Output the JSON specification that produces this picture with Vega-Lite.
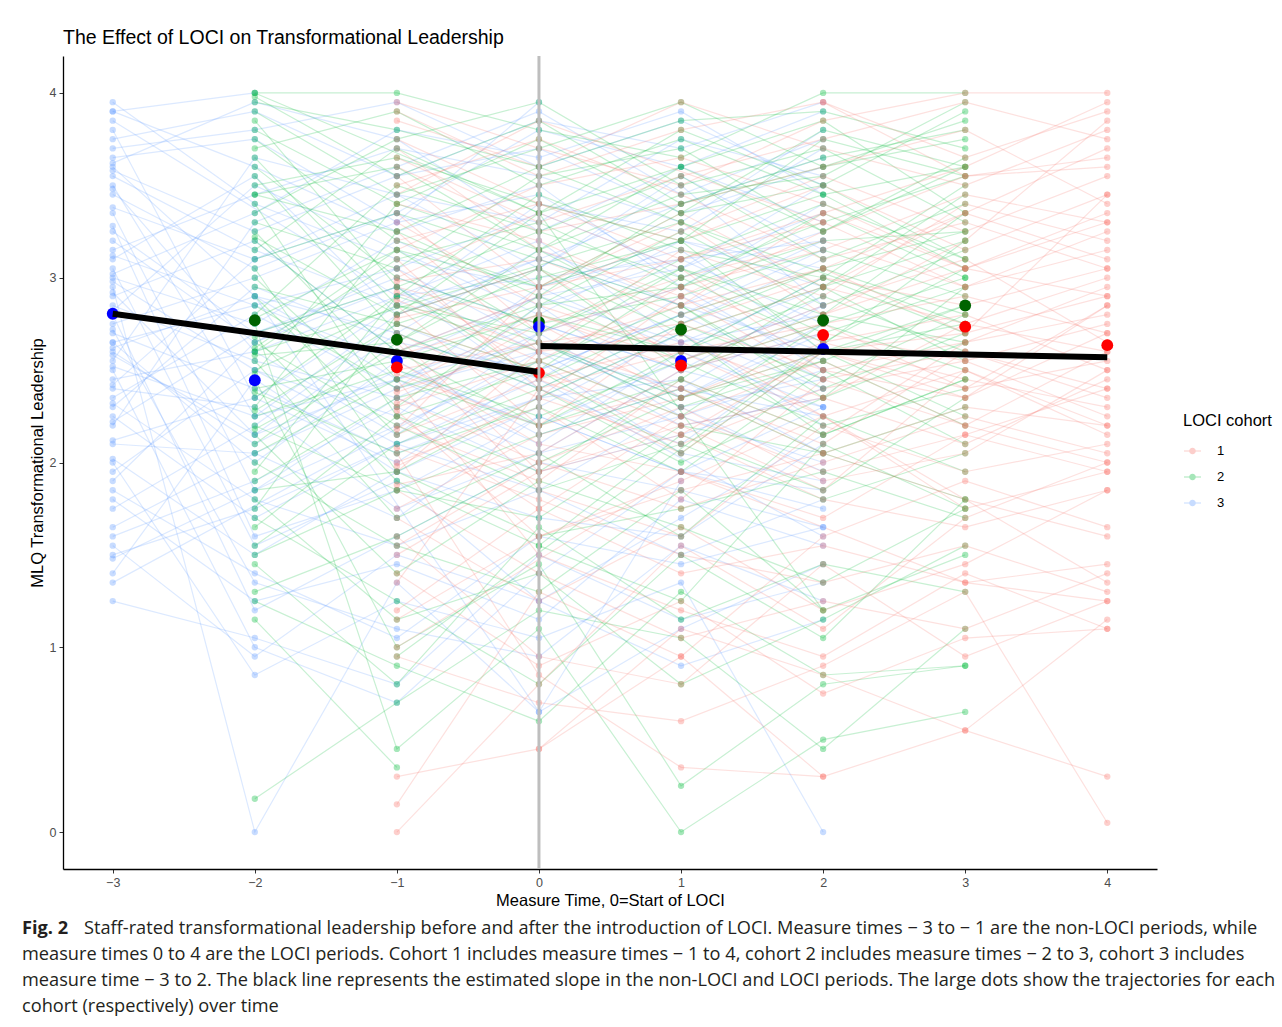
{
  "$schema": "https://vega.github.io/schema/vega-lite/v6.json",
  "padding": {"left": 22, "top": 28, "right": 5, "bottom": 5},
  "bounds": "flush",
  "spacing": 65,
  "config": {
    "view": {"stroke": null},
    "axis": {"grid": false, "domainColor": "black", "domainWidth": 1.3, "tickColor": "#333333", "tickSize": 4, "labelColor": "#4D4D4D", "labelFont": "Liberation Sans", "labelFontSize": 12.5, "labelPadding": 3, "titleFont": "Liberation Sans", "titleFontSize": 16.5, "titleFontWeight": "normal", "titleColor": "black", "titlePadding": 4}
  },
  "datasets": {
    "traj": [
      {"c":"3","id":"b1","t":[-3,-2,-1,0,1,2],"y":[3.95,3.40,3.10,2.95,3.20,3.05]},
      {"c":"3","id":"b2","t":[-3,-2,-1,0,1,2],"y":[3.75,3.90,3.55,3.70,3.35,3.60]},
      {"c":"3","id":"b3","t":[-3,-2,-1,0,1,2],"y":[3.60,2.90,2.70,3.15,2.85,2.60]},
      {"c":"3","id":"b4","t":[-3,-2,-1,0,1,2],"y":[3.50,2.25,2.45,2.10,2.60,2.30]},
      {"c":"3","id":"b5","t":[-3,-2,-1,0,1,2],"y":[3.45,3.05,3.35,3.80,3.60,3.90]},
      {"c":"3","id":"b6","t":[-3,-2,-1,0,1,2],"y":[3.35,1.85,2.20,2.55,2.05,1.90]},
      {"c":"3","id":"b7","t":[-3,-2,-1,0,1,2],"y":[3.20,2.65,2.95,2.40,2.75,3.10]},
      {"c":"3","id":"b8","t":[-3,-2,-1,0,1,2],"y":[3.10,3.55,2.80,3.05,3.50,2.85]},
      {"c":"3","id":"b9","t":[-3,-2,-1,0,1,2],"y":[3.05,1.55,1.90,1.25,1.70,2.15]},
      {"c":"3","id":"b10","t":[-3,-2,-1,0,1,2],"y":[3.00,2.75,3.20,2.85,2.35,2.70]},
      {"c":"3","id":"b11","t":[-3,-2,-1,0,1,2],"y":[2.95,0.00,1.35,0.65,1.10,1.45]},
      {"c":"3","id":"b12","t":[-3,-2,-1,0,1,2],"y":[2.90,3.20,2.60,2.90,3.05,3.35]},
      {"c":"3","id":"b13","t":[-3,-2,-1,0,1,2],"y":[2.85,2.55,2.35,2.70,2.95,2.50]},
      {"c":"3","id":"b14","t":[-3,-2,-1,0,1,2],"y":[2.80,1.20,1.60,2.00,1.85,1.65]},
      {"c":"3","id":"b15","t":[-3,-2,-1,0,1,2],"y":[2.75,3.00,3.30,3.45,3.00,3.25]},
      {"c":"3","id":"b16","t":[-3,-2,-1,0,1,2],"y":[2.70,2.40,2.05,2.35,2.45,2.05]},
      {"c":"3","id":"b17","t":[-3,-2,-1,0,1,2],"y":[2.65,2.85,3.05,2.65,2.30,2.45]},
      {"c":"3","id":"b18","t":[-3,-2,-1,0,1,2],"y":[2.60,2.10,2.50,2.20,2.55,2.85]},
      {"c":"3","id":"b19","t":[-3,-2,-1,0,1,2],"y":[2.55,3.65,3.45,3.30,3.75,3.55]},
      {"c":"3","id":"b20","t":[-3,-2,-1,0,1,2],"y":[2.50,1.00,0.70,1.40,1.95,1.85]},
      {"c":"3","id":"b21","t":[-3,-2,-1,0,1,2],"y":[2.45,2.60,2.90,3.20,2.65,2.95]},
      {"c":"3","id":"b22","t":[-3,-2,-1,0,1,2],"y":[2.40,2.30,1.75,2.05,2.25,2.00]},
      {"c":"3","id":"b23","t":[-3,-2,-1,0,1,2],"y":[2.30,2.95,2.65,2.50,2.80,3.15]},
      {"c":"3","id":"b24","t":[-3,-2,-1,0,1,2],"y":[2.25,1.70,2.10,1.85,1.50,1.80]},
      {"c":"3","id":"b25","t":[-3,-2,-1,0,1,2],"y":[2.20,3.30,3.60,3.90,3.45,3.75]},
      {"c":"3","id":"b26","t":[-3,-2,-1,0,1,2],"y":[2.10,2.05,2.40,2.60,2.20,2.35]},
      {"c":"3","id":"b27","t":[-3,-2,-1,0,1,2],"y":[2.00,0.85,1.25,1.05,1.35,0.00]},
      {"c":"3","id":"b28","t":[-3,-2,-1,0,1,2],"y":[1.95,2.50,2.25,2.85,3.10,2.75]},
      {"c":"3","id":"b29","t":[-3,-2,-1,0,1,2],"y":[1.85,1.40,1.05,1.60,1.45,1.65]},
      {"c":"3","id":"b30","t":[-3,-2,-1,0,1,2],"y":[1.75,2.20,2.75,2.45,2.90,2.55]},
      {"c":"3","id":"b31","t":[-3,-2,-1,0,1,2],"y":[1.60,1.90,2.30,1.95,2.15,2.40]},
      {"c":"3","id":"b32","t":[-3,-2,-1,0,1,2],"y":[1.55,0.95,1.50,1.25,0.90,1.15]},
      {"c":"3","id":"b33","t":[-3,-2,-1,0,1,2],"y":[1.40,2.45,1.95,2.30,2.70,2.20]},
      {"c":"3","id":"b34","t":[-3,-2,-1,0,1,2],"y":[1.25,1.05,0.80,1.50,1.15,1.35]},
      {"c":"3","id":"b35","t":[-3,-2,-1,0,1,2],"y":[3.70,3.80,3.95,3.60,3.85,3.50]},
      {"c":"3","id":"b36","t":[-3,-2,-1,0,1,2],"y":[3.55,3.15,2.85,3.40,3.25,3.70]},
      {"c":"3","id":"b37","t":[-3,-2,-1,0,1,2],"y":[3.25,2.70,3.00,2.75,2.50,2.90]},
      {"c":"3","id":"b38","t":[-3,-2,-1,0,1,2],"y":[3.15,3.45,3.70,3.55,3.30,3.80]},
      {"c":"3","id":"b39","t":[-3,-2,-1,0,1,2],"y":[2.65,2.00,2.55,2.15,2.40,2.25]},
      {"c":"3","id":"b40","t":[-3,-2,-1,0,1,2],"y":[2.35,2.80,2.40,2.95,2.60,3.00]},
      {"c":"3","id":"b41","t":[-3,-1,2],"y":[3.85,2.90,3.20]},
      {"c":"3","id":"b42","t":[-3,0],"y":[1.35,2.60]},
      {"c":"3","id":"b43","t":[-3,-2],"y":[3.90,4.00]},
      {"c":"3","id":"b44","t":[-2,0,1],"y":[2.90,0.65,1.90]},
      {"c":"3","id":"b45","t":[-3,-2,0,2],"y":[1.50,1.75,2.45,1.60]},
      {"c":"3","id":"b46","t":[-3,-2,-1,0],"y":[3.65,3.75,3.30,3.95]},
      {"c":"3","id":"b47","t":[-3,-2,-1,0,1,2],"y":[3.90,3.60,3.25,3.50,2.95,3.40]},
      {"c":"3","id":"b48","t":[-3,-2,-1,0,1,2],"y":[3.80,2.35,2.85,3.10,3.40,3.65]},
      {"c":"3","id":"b49","t":[-3,-2,-1,0,1,2],"y":[3.62,3.95,3.75,3.25,3.60,3.30]},
      {"c":"3","id":"b50","t":[-3,-2,-1,0,1,2],"y":[3.48,2.60,2.15,2.70,2.25,2.50]},
      {"c":"3","id":"b51","t":[-3,-2,-1,0,1,2],"y":[3.38,3.10,3.45,3.05,3.55,3.15]},
      {"c":"3","id":"b52","t":[-3,-2,-1,0,1,2],"y":[3.28,1.60,1.85,2.25,1.95,2.30]},
      {"c":"3","id":"b53","t":[-3,-2,-1,0,1,2],"y":[3.12,2.85,2.55,2.90,2.65,2.80]},
      {"c":"3","id":"b54","t":[-3,-2,-1,0,1,2],"y":[3.02,3.35,3.80,3.65,3.90,3.45]},
      {"c":"3","id":"b55","t":[-3,-2,-1,0,1,2],"y":[2.92,2.15,2.70,2.40,2.10,2.65]},
      {"c":"3","id":"b56","t":[-3,-2,-1,0,1,2],"y":[2.82,3.50,3.15,2.80,3.20,2.95]},
      {"c":"3","id":"b57","t":[-3,-2,-1,0,1,2],"y":[2.72,1.35,1.10,0.95,1.55,1.25]},
      {"c":"3","id":"b58","t":[-3,-2,-1,0,1,2],"y":[2.62,2.90,2.45,2.65,2.35,2.75]},
      {"c":"3","id":"b59","t":[-3,-2,-1,0,1,2],"y":[2.52,2.25,2.80,3.10,2.85,3.20]},
      {"c":"3","id":"b60","t":[-3,-2,-1,0,1,2],"y":[2.42,3.10,3.35,2.95,3.15,2.60]},
      {"c":"3","id":"b61","t":[-3,-2,-1,0,1,2],"y":[2.32,1.80,1.55,1.85,2.30,1.95]},
      {"c":"3","id":"b62","t":[-3,-2,-1,0,1,2],"y":[2.22,2.70,2.95,2.60,2.40,2.85]},
      {"c":"3","id":"b63","t":[-3,-2,-1,0,1,2],"y":[2.12,2.35,2.00,2.50,2.80,2.45]},
      {"c":"3","id":"b64","t":[-3,-2,-1,0,1,2],"y":[2.02,1.50,1.95,1.70,1.60,2.10]},
      {"c":"3","id":"b65","t":[-3,-2,-1,0,1,2],"y":[1.90,2.65,3.05,3.35,3.05,3.50]},
      {"c":"3","id":"b66","t":[-3,-2,-1,0,1,2],"y":[1.80,1.25,1.45,1.15,1.80,1.55]},
      {"c":"3","id":"b67","t":[-3,-2,-1,0,1,2],"y":[1.65,2.05,1.70,2.25,1.95,1.75]},
      {"c":"3","id":"b68","t":[-3,-2,-1,0,1,2],"y":[1.48,1.85,2.35,2.05,2.50,2.30]},
      {"c":"3","id":"b69","t":[-3,-2,-1,0,1,2],"y":[3.58,3.25,3.55,3.85,3.70,3.95]},
      {"c":"3","id":"b70","t":[-3,-2,-1,0,1,2],"y":[2.98,2.50,2.10,2.35,2.70,2.40]},
      {"c":"3","id":"b71","t":[-3,-2,-1,0,1,2],"y":[2.58,2.15,2.45,2.75,2.50,2.70]},
      {"c":"2","id":"g1","t":[-2,-1,0,1,2,3],"y":[4.00,4.00,3.80,3.65,4.00,4.00]},
      {"c":"2","id":"g2","t":[-2,-1,0,1,2,3],"y":[3.90,3.45,3.70,3.95,3.60,3.85]},
      {"c":"2","id":"g3","t":[-2,-1,0,1,2,3],"y":[3.75,3.20,2.95,3.35,3.50,3.10]},
      {"c":"2","id":"g4","t":[-2,-1,0,1,2,3],"y":[3.65,2.85,2.70,3.05,2.80,3.35]},
      {"c":"2","id":"g5","t":[-2,-1,0,1,2,3],"y":[3.50,3.65,3.40,3.20,3.75,3.55]},
      {"c":"2","id":"g6","t":[-2,-1,0,1,2,3],"y":[3.40,2.25,2.50,2.05,2.60,2.85]},
      {"c":"2","id":"g7","t":[-2,-1,0,1,2,3],"y":[3.30,3.05,3.55,3.70,3.25,3.65]},
      {"c":"2","id":"g8","t":[-2,-1,0,1,2,3],"y":[3.20,2.60,2.20,2.45,2.95,2.55]},
      {"c":"2","id":"g9","t":[-2,-1,0,1,2,3],"y":[3.10,3.35,3.10,2.85,2.40,2.70]},
      {"c":"2","id":"g10","t":[-2,-1,0,1,2,3],"y":[3.05,1.95,2.35,2.70,2.15,2.45]},
      {"c":"2","id":"g11","t":[-2,-1,0,1,2,3],"y":[2.95,2.75,3.00,3.20,3.45,3.05]},
      {"c":"2","id":"g12","t":[-2,-1,0,1,2,3],"y":[2.85,2.40,2.65,2.30,2.55,2.20]},
      {"c":"2","id":"g13","t":[-2,-1,0,1,2,3],"y":[2.80,3.50,3.25,3.55,3.10,3.40]},
      {"c":"2","id":"g14","t":[-2,-1,0,1,2,3],"y":[2.75,0.45,1.10,0.00,0.50,0.65]},
      {"c":"2","id":"g15","t":[-2,-1,0,1,2,3],"y":[2.70,2.95,2.45,2.80,3.05,3.25]},
      {"c":"2","id":"g16","t":[-2,-1,0,1,2,3],"y":[2.65,2.20,1.85,2.10,1.80,2.05]},
      {"c":"2","id":"g17","t":[-2,-1,0,1,2,3],"y":[2.60,3.10,3.30,2.95,3.35,3.00]},
      {"c":"2","id":"g18","t":[-2,-1,0,1,2,3],"y":[2.55,1.70,2.05,1.60,2.25,1.95]},
      {"c":"2","id":"g19","t":[-2,-1,0,1,2,3],"y":[2.50,2.85,2.60,3.05,2.70,2.95]},
      {"c":"2","id":"g20","t":[-2,-1,0,1,2,3],"y":[2.45,1.00,1.45,0.25,0.80,0.90]},
      {"c":"2","id":"g21","t":[-2,-1,0,1,2,3],"y":[2.40,2.55,2.80,2.60,2.90,2.60]},
      {"c":"2","id":"g22","t":[-2,-1,0,1,2,3],"y":[2.30,3.25,2.90,3.40,3.60,3.75]},
      {"c":"2","id":"g23","t":[-2,-1,0,1,2,3],"y":[2.20,1.85,2.15,2.40,2.05,2.30]},
      {"c":"2","id":"g24","t":[-2,-1,0,1,2,3],"y":[2.10,2.65,3.15,2.75,2.45,2.80]},
      {"c":"2","id":"g25","t":[-2,-1,0,1,2,3],"y":[2.00,1.55,1.30,1.85,1.20,1.50]},
      {"c":"2","id":"g26","t":[-2,-1,0,1,2,3],"y":[1.90,2.35,2.55,2.25,2.75,2.50]},
      {"c":"2","id":"g27","t":[-2,-1,0,1,2,3],"y":[1.75,2.80,3.35,3.60,3.25,3.60]},
      {"c":"2","id":"g28","t":[-2,-1,0,1,2,3],"y":[1.70,1.25,0.80,1.50,1.05,1.80]},
      {"c":"2","id":"g29","t":[-2,-1,0,1,2,3],"y":[1.55,2.10,2.40,2.00,2.35,2.65]},
      {"c":"2","id":"g30","t":[-2,-1,0,1,2,3],"y":[1.45,0.80,1.65,1.15,1.45,1.30]},
      {"c":"2","id":"g31","t":[-2,-1,0,1,2,3],"y":[1.30,1.60,2.00,2.35,2.60,2.25]},
      {"c":"2","id":"g32","t":[-2,-1,0,1,2,3],"y":[0.18,0.70,1.20,1.05,0.45,1.10]},
      {"c":"2","id":"g33","t":[-2,-1,0,1,2,3],"y":[3.95,3.80,3.60,3.85,3.90,3.70]},
      {"c":"2","id":"g34","t":[-2,-1,0,1,2,3],"y":[3.60,3.00,2.75,2.90,3.15,2.90]},
      {"c":"2","id":"g35","t":[-2,-1,0,1,2,3],"y":[3.00,2.30,2.85,3.25,2.85,3.15]},
      {"c":"2","id":"g36","t":[-2,-1,0,1,2,3],"y":[2.35,2.90,3.45,3.15,3.00,3.50]},
      {"c":"2","id":"g37","t":[-2,-1,0,1,2,3],"y":[3.35,3.75,3.95,3.50,3.70,3.30]},
      {"c":"2","id":"g38","t":[-2,-1,0,1,2,3],"y":[2.25,2.50,2.25,2.55,2.20,2.40]},
      {"c":"2","id":"g39","t":[-2,-1,0,1,2,3],"y":[1.85,1.95,1.60,1.75,1.95,1.70]},
      {"c":"2","id":"g40","t":[-2,-1,0,1,2,3],"y":[3.45,3.60,3.15,3.45,3.55,3.95]},
      {"c":"2","id":"g41","t":[-2,1,3],"y":[2.60,3.30,2.75]},
      {"c":"2","id":"g42","t":[-1,3],"y":[0.95,3.20]},
      {"c":"2","id":"g43","t":[-2,0,2],"y":[4.00,3.35,1.20]},
      {"c":"2","id":"g44","t":[0,1,2,3],"y":[1.55,1.25,2.10,1.75]},
      {"c":"2","id":"g45","t":[-2,-1],"y":[1.15,0.35]},
      {"c":"2","id":"g46","t":[-2,-1,0,1,2,3],"y":[3.98,3.55,3.85,3.40,3.65,3.80]},
      {"c":"2","id":"g47","t":[-2,-1,0,1,2,3],"y":[3.85,2.95,3.25,3.00,3.30,3.55]},
      {"c":"2","id":"g48","t":[-2,-1,0,1,2,3],"y":[3.70,3.90,3.50,3.75,3.45,3.60]},
      {"c":"2","id":"g49","t":[-2,-1,0,1,2,3],"y":[3.55,2.70,2.40,2.75,3.05,2.80]},
      {"c":"2","id":"g50","t":[-2,-1,0,1,2,3],"y":[3.45,3.25,3.60,3.30,2.95,3.20]},
      {"c":"2","id":"g51","t":[-2,-1,0,1,2,3],"y":[3.25,2.45,2.90,2.55,2.80,2.65]},
      {"c":"2","id":"g52","t":[-2,-1,0,1,2,3],"y":[3.15,3.70,3.35,3.80,3.50,3.90]},
      {"c":"2","id":"g53","t":[-2,-1,0,1,2,3],"y":[2.90,2.15,2.55,2.85,2.35,2.95]},
      {"c":"2","id":"g54","t":[-2,-1,0,1,2,3],"y":[2.78,3.15,2.70,3.10,3.40,3.10]},
      {"c":"2","id":"g55","t":[-2,-1,0,1,2,3],"y":[2.68,1.90,1.55,2.15,1.85,2.35]},
      {"c":"2","id":"g56","t":[-2,-1,0,1,2,3],"y":[2.58,2.65,3.05,2.70,2.95,3.45]},
      {"c":"2","id":"g57","t":[-2,-1,0,1,2,3],"y":[2.48,3.40,3.75,3.35,3.80,3.60]},
      {"c":"2","id":"g58","t":[-2,-1,0,1,2,3],"y":[2.38,2.05,2.30,1.95,2.50,2.10]},
      {"c":"2","id":"g59","t":[-2,-1,0,1,2,3],"y":[2.28,2.75,2.50,3.00,2.65,3.05]},
      {"c":"2","id":"g60","t":[-2,-1,0,1,2,3],"y":[2.15,1.40,1.90,1.65,1.35,1.75]},
      {"c":"2","id":"g61","t":[-2,-1,0,1,2,3],"y":[2.05,2.45,2.20,2.60,3.00,2.70]},
      {"c":"2","id":"g62","t":[-2,-1,0,1,2,3],"y":[1.95,2.90,2.65,2.35,2.55,2.85]},
      {"c":"2","id":"g63","t":[-2,-1,0,1,2,3],"y":[1.80,1.15,1.40,0.80,1.15,1.55]},
      {"c":"2","id":"g64","t":[-2,-1,0,1,2,3],"y":[1.65,2.25,1.95,2.45,2.15,2.45]},
      {"c":"2","id":"g65","t":[-2,-1,0,1,2,3],"y":[1.50,1.85,1.70,2.20,2.05,1.80]},
      {"c":"2","id":"g66","t":[-2,-1,0,1,2,3],"y":[1.25,0.90,0.60,1.30,0.85,0.90]},
      {"c":"2","id":"g67","t":[-2,-1,0,1,2,3],"y":[3.80,3.40,3.15,3.60,3.85,3.35]},
      {"c":"2","id":"g68","t":[-2,-1,0,1,2,3],"y":[3.22,2.80,3.05,2.50,2.75,3.00]},
      {"c":"2","id":"g69","t":[-2,-1,0,1,2,3],"y":[2.62,3.15,2.95,3.20,2.60,2.75]},
      {"c":"2","id":"g70","t":[-2,-1,0,1,2,3],"y":[2.18,2.60,2.85,2.95,3.20,3.25]},
      {"c":"1","id":"r1","t":[-1,0,1,2,3,4],"y":[3.95,3.70,3.50,3.85,4.00,4.00]},
      {"c":"1","id":"r2","t":[-1,0,1,2,3,4],"y":[3.75,3.40,3.10,3.35,3.60,3.95]},
      {"c":"1","id":"r3","t":[-1,0,1,2,3,4],"y":[3.55,2.95,3.30,2.80,3.20,3.85]},
      {"c":"1","id":"r4","t":[-1,0,1,2,3,4],"y":[3.40,3.20,2.85,3.05,2.70,3.45]},
      {"c":"1","id":"r5","t":[-1,0,1,2,3,4],"y":[3.25,2.60,2.70,2.95,3.35,3.70]},
      {"c":"1","id":"r6","t":[-1,0,1,2,3,4],"y":[3.15,3.50,3.65,3.40,3.05,3.30]},
      {"c":"1","id":"r7","t":[-1,0,1,2,3,4],"y":[3.05,2.45,2.15,2.60,2.40,2.85]},
      {"c":"1","id":"r8","t":[-1,0,1,2,3,4],"y":[2.95,2.75,3.00,3.20,2.95,3.15]},
      {"c":"1","id":"r9","t":[-1,0,1,2,3,4],"y":[2.85,2.20,2.40,2.05,2.30,2.20]},
      {"c":"1","id":"r10","t":[-1,0,1,2,3,4],"y":[2.80,3.05,2.55,2.85,3.10,2.65]},
      {"c":"1","id":"r11","t":[-1,0,1,2,3,4],"y":[2.70,2.35,2.90,2.45,2.60,2.40]},
      {"c":"1","id":"r12","t":[-1,0,1,2,3,4],"y":[2.65,1.85,1.60,2.20,1.95,2.10]},
      {"c":"1","id":"r13","t":[-1,0,1,2,3,4],"y":[2.60,2.90,3.25,3.55,3.25,3.55]},
      {"c":"1","id":"r14","t":[-1,0,1,2,3,4],"y":[2.55,2.10,1.95,1.70,2.15,1.95]},
      {"c":"1","id":"r15","t":[-1,0,1,2,3,4],"y":[2.50,2.65,2.75,3.00,2.85,3.05]},
      {"c":"1","id":"r16","t":[-1,0,1,2,3,4],"y":[2.45,1.50,1.20,0.95,1.40,1.10]},
      {"c":"1","id":"r17","t":[-1,0,1,2,3,4],"y":[2.40,2.80,2.50,2.70,2.55,2.75]},
      {"c":"1","id":"r18","t":[-1,0,1,2,3,4],"y":[2.35,2.00,2.30,1.90,2.05,2.50]},
      {"c":"1","id":"r19","t":[-1,0,1,2,3,4],"y":[2.30,2.55,2.95,3.15,3.45,3.30]},
      {"c":"1","id":"r20","t":[-1,0,1,2,3,4],"y":[2.25,1.75,1.40,1.55,1.35,1.25]},
      {"c":"1","id":"r21","t":[-1,0,1,2,3,4],"y":[2.15,2.45,2.65,2.35,2.75,2.60]},
      {"c":"1","id":"r22","t":[-1,0,1,2,3,4],"y":[2.05,0.85,0.35,0.30,0.55,0.30]},
      {"c":"1","id":"r23","t":[-1,0,1,2,3,4],"y":[2.00,2.30,1.80,2.45,2.20,2.00]},
      {"c":"1","id":"r24","t":[-1,0,1,2,3,4],"y":[1.95,2.60,3.15,2.90,3.40,3.20]},
      {"c":"1","id":"r25","t":[-1,0,1,2,3,4],"y":[1.85,1.40,1.05,1.25,1.10,1.40]},
      {"c":"1","id":"r26","t":[-1,0,1,2,3,4],"y":[1.75,2.15,2.35,2.65,2.45,2.30]},
      {"c":"1","id":"r27","t":[-1,0,1,2,3,4],"y":[1.60,0.95,0.80,1.45,0.95,1.25]},
      {"c":"1","id":"r28","t":[-1,0,1,2,3,4],"y":[1.50,1.95,2.20,1.85,2.50,2.15]},
      {"c":"1","id":"r29","t":[-1,0,1,2,3,4],"y":[1.35,2.40,2.05,2.60,2.35,2.85]},
      {"c":"1","id":"r30","t":[-1,0,1,2,3,4],"y":[1.15,1.60,1.90,2.25,1.75,1.95]},
      {"c":"1","id":"r31","t":[-1,0,1,2,3,4],"y":[0.95,0.70,0.60,0.90,1.30,0.05]},
      {"c":"1","id":"r32","t":[-1,0,1,2,3,4],"y":[0.30,0.45,1.10,0.85,0.55,1.15]},
      {"c":"1","id":"r33","t":[-1,0,1,2,3,4],"y":[0.15,1.30,0.95,1.60,1.90,1.65]},
      {"c":"1","id":"r34","t":[-1,0,1,2,3,4],"y":[0.00,0.80,1.55,1.10,1.70,2.00]},
      {"c":"1","id":"r35","t":[-1,0,1,2,3,4],"y":[3.85,3.60,3.95,3.70,3.50,3.80]},
      {"c":"1","id":"r36","t":[-1,0,1,2,3,4],"y":[3.60,3.25,3.40,3.60,3.80,3.40]},
      {"c":"1","id":"r37","t":[-1,0,1,2,3,4],"y":[3.30,2.85,2.60,2.75,2.90,2.70]},
      {"c":"1","id":"r38","t":[-1,0,1,2,3,4],"y":[3.00,3.35,3.05,2.50,2.65,2.95]},
      {"c":"1","id":"r39","t":[-1,0,1,2,3,4],"y":[2.75,2.50,2.20,2.35,2.10,2.45]},
      {"c":"1","id":"r40","t":[-1,0,1,2,3,4],"y":[2.20,1.90,2.45,2.15,2.65,2.80]},
      {"c":"1","id":"r41","t":[-1,0,2],"y":[3.45,3.85,3.30]},
      {"c":"1","id":"r42","t":[1,4],"y":[2.70,1.35]},
      {"c":"1","id":"r43","t":[2,3,4],"y":[3.95,3.55,3.65]},
      {"c":"1","id":"r44","t":[-1,1,3,4],"y":[1.00,1.95,1.35,1.45]},
      {"c":"1","id":"r45","t":[0,1,2],"y":[0.45,0.95,0.30]},
      {"c":"1","id":"r46","t":[-1,0,1,2,3,4],"y":[3.90,3.55,3.80,3.95,3.65,3.90]},
      {"c":"1","id":"r47","t":[-1,0,1,2,3,4],"y":[3.70,3.15,2.90,3.25,3.55,3.60]},
      {"c":"1","id":"r48","t":[-1,0,1,2,3,4],"y":[3.50,3.75,3.45,3.10,3.30,3.05]},
      {"c":"1","id":"r49","t":[-1,0,1,2,3,4],"y":[3.35,2.70,2.95,2.65,2.80,2.50]},
      {"c":"1","id":"r50","t":[-1,0,1,2,3,4],"y":[3.20,3.40,3.20,3.50,3.15,3.45]},
      {"c":"1","id":"r51","t":[-1,0,1,2,3,4],"y":[3.10,2.40,2.60,2.25,2.50,2.20]},
      {"c":"1","id":"r52","t":[-1,0,1,2,3,4],"y":[2.98,3.10,2.80,3.05,3.35,3.10]},
      {"c":"1","id":"r53","t":[-1,0,1,2,3,4],"y":[2.88,2.55,2.25,2.55,2.20,2.60]},
      {"c":"1","id":"r54","t":[-1,0,1,2,3,4],"y":[2.78,2.95,3.35,2.95,2.75,3.00]},
      {"c":"1","id":"r55","t":[-1,0,1,2,3,4],"y":[2.68,1.95,2.15,1.80,1.65,1.85]},
      {"c":"1","id":"r56","t":[-1,0,1,2,3,4],"y":[2.58,2.80,2.55,2.80,3.05,2.90]},
      {"c":"1","id":"r57","t":[-1,0,1,2,3,4],"y":[2.48,2.20,2.75,2.50,2.35,2.70]},
      {"c":"1","id":"r58","t":[-1,0,1,2,3,4],"y":[2.38,2.65,2.40,2.10,2.60,2.35]},
      {"c":"1","id":"r59","t":[-1,0,1,2,3,4],"y":[2.28,1.60,1.85,2.05,1.80,1.60]},
      {"c":"1","id":"r60","t":[-1,0,1,2,3,4],"y":[2.18,2.95,3.10,3.30,2.95,3.25]},
      {"c":"1","id":"r61","t":[-1,0,1,2,3,4],"y":[2.08,1.80,1.50,1.35,1.55,1.30]},
      {"c":"1","id":"r62","t":[-1,0,1,2,3,4],"y":[1.98,2.35,2.10,2.40,2.55,2.25]},
      {"c":"1","id":"r63","t":[-1,0,1,2,3,4],"y":[1.88,2.05,2.50,2.75,2.40,2.55]},
      {"c":"1","id":"r64","t":[-1,0,1,2,3,4],"y":[1.70,1.25,1.65,1.20,1.45,1.85]},
      {"c":"1","id":"r65","t":[-1,0,1,2,3,4],"y":[1.55,2.00,1.75,2.00,2.25,2.05]},
      {"c":"1","id":"r66","t":[-1,0,1,2,3,4],"y":[1.40,0.90,1.25,0.75,1.05,1.10]},
      {"c":"1","id":"r67","t":[-1,0,1,2,3,4],"y":[1.20,1.75,2.25,1.95,2.15,2.40]},
      {"c":"1","id":"r68","t":[-1,0,1,2,3,4],"y":[3.65,3.30,3.55,3.75,3.95,3.75]},
      {"c":"1","id":"r69","t":[-1,0,1,2,3,4],"y":[2.92,2.60,2.85,3.35,3.05,3.35]},
      {"c":"1","id":"r70","t":[-1,0,1,2,3,4],"y":[2.32,2.75,2.35,2.60,2.70,2.90]}
    ],
    "means": [
      {"c":"3","t":-3,"y":2.805},
      {"c":"2","t":-2,"y":2.77},
      {"c":"3","t":-2,"y":2.445},
      {"c":"2","t":-1,"y":2.665},
      {"c":"3","t":-1,"y":2.55},
      {"c":"1","t":-1,"y":2.515},
      {"c":"2","t":0,"y":2.76},
      {"c":"3","t":0,"y":2.735},
      {"c":"1","t":0,"y":2.485},
      {"c":"2","t":1,"y":2.72},
      {"c":"3","t":1,"y":2.55},
      {"c":"1","t":1,"y":2.525},
      {"c":"2","t":2,"y":2.77},
      {"c":"1","t":2,"y":2.69},
      {"c":"3","t":2,"y":2.615},
      {"c":"2","t":3,"y":2.85},
      {"c":"1","t":3,"y":2.735},
      {"c":"1","t":4,"y":2.635}
    ],
    "fit": [
      {"seg":"pre","t":-3,"y":2.805},
      {"seg":"pre","t":0,"y":2.49},
      {"seg":"post","t":0,"y":2.63},
      {"seg":"post","t":4,"y":2.57}
    ],
    "cap": [
      {"line":1,"text":"Staff-rated transformational leadership before and after the introduction of LOCI. Measure times − 3 to − 1 are the non-LOCI periods, while"},
      {"line":2,"text":"measure times 0 to 4 are the LOCI periods. Cohort 1 includes measure times − 1 to 4, cohort 2 includes measure times − 2 to 3, cohort 3 includes"},
      {"line":3,"text":"measure time − 3 to 2. The black line represents the estimated slope in the non-LOCI and LOCI periods. The large dots show the trajectories for each"},
      {"line":4,"text":"cohort (respectively) over time"}
    ]
  },
  "vconcat": [
    {
      "width": 1094,
      "height": 813,
      "title": {"text": "The Effect of LOCI on Transformational Leadership", "anchor": "start", "frame": "group", "font": "Liberation Sans", "fontSize": 19.5, "fontWeight": "normal", "color": "black", "offset": 6},
      "layer": [
        {
          "data": {"name": "traj"},
          "transform": [{"flatten": ["t", "y"]}],
          "mark": {"type": "line", "strokeWidth": 1.2, "opacity": 0.22},
          "encoding": {
            "x": {"field": "t", "type": "quantitative", "scale": {"domain": [-3.35, 4.35], "nice": false, "zero": false}, "axis": {"values": [-3, -2, -1, 0, 1, 2, 3, 4], "format": "d", "title": "Measure Time, 0=Start of LOCI", "labelFlush": false}},
            "y": {"field": "y", "type": "quantitative", "scale": {"domain": [-0.2, 4.2], "nice": false, "zero": false}, "axis": {"values": [0, 1, 2, 3, 4], "format": "d", "title": "MLQ Transformational Leadership", "labelFlush": false}},
            "color": {"field": "c", "type": "nominal", "scale": {"domain": ["1", "2", "3"], "range": ["#F8766D", "#00BA38", "#619CFF"]},
              "legend": {"title": "LOCI cohort", "orient": "none", "legendX": 1120, "legendY": 357, "symbolType": "M-1,0L1,0M0.32,0A0.32,0.32,0,1,1,-0.32,0A0.32,0.32,0,1,1,0.32,0Z", "symbolSize": 289, "symbolStrokeWidth": 1.2, "symbolOpacity": 0.35, "titleFont": "Liberation Sans", "titleFontSize": 16.5, "titleFontWeight": "normal", "titleColor": "black", "titlePadding": 12, "labelFont": "Liberation Sans", "labelFontSize": 13, "labelColor": "black", "labelOffset": 15, "rowPadding": 9,
                "encode": {"symbols": {"update": {"fill": {"scale": "color", "field": "value"}, "stroke": {"scale": "color", "field": "value"}}}}}},
            "detail": {"field": "id"}
          }
        },
        {
          "data": {"name": "traj"},
          "transform": [{"flatten": ["t", "y"]}],
          "mark": {"type": "point", "filled": true, "size": 40, "opacity": 0.35},
          "encoding": {
            "x": {"field": "t", "type": "quantitative"},
            "y": {"field": "y", "type": "quantitative"},
            "color": {"field": "c", "type": "nominal",
              "legend": {"title": "LOCI cohort", "orient": "none", "legendX": 1120, "legendY": 357, "symbolType": "M-1,0L1,0M0.32,0A0.32,0.32,0,1,1,-0.32,0A0.32,0.32,0,1,1,0.32,0Z", "symbolSize": 289, "symbolStrokeWidth": 1.2, "symbolOpacity": 0.35, "titleFont": "Liberation Sans", "titleFontSize": 16.5, "titleFontWeight": "normal", "titleColor": "black", "titlePadding": 12, "labelFont": "Liberation Sans", "labelFontSize": 13, "labelColor": "black", "labelOffset": 15, "rowPadding": 9,
                "encode": {"symbols": {"update": {"fill": {"scale": "color", "field": "value"}, "stroke": {"scale": "color", "field": "value"}}}}}}
          }
        },
        {
          "data": {"name": "means"},
          "mark": {"type": "point", "filled": true, "size": 140, "opacity": 1},
          "encoding": {
            "x": {"field": "t", "type": "quantitative"},
            "y": {"field": "y", "type": "quantitative"},
            "fill": {"field": "c", "type": "nominal", "scale": {"domain": ["1", "2", "3"], "range": ["#FF0000", "#006400", "#0000FF"]}, "legend": null}
          }
        },
        {
          "data": {"name": "fit"},
          "mark": {"type": "line", "color": "black", "strokeWidth": 6},
          "encoding": {
            "x": {"field": "t", "type": "quantitative"},
            "y": {"field": "y", "type": "quantitative"},
            "detail": {"field": "seg"}
          }
        },
        {
          "data": {"values": [{}]},
          "mark": {"type": "rule", "color": "#BEBEBE", "strokeWidth": 3},
          "encoding": {"x": {"datum": 0, "type": "quantitative"}}
        }
      ]
    },
    {
      "width": 1094,
      "height": 78,
      "data": {"name": "cap"},
      "layer": [
        {
          "transform": [{"filter": "datum.line == 1"}],
          "mark": {"type": "text", "font": "Open Sans", "fontSize": 18.2, "align": "left", "baseline": "alphabetic", "color": "#231F20", "dx": 21},
          "encoding": {
            "x": {"datum": 0, "type": "quantitative", "scale": {"domain": [0, 1]}, "axis": null},
            "y": {"field": "line", "type": "ordinal", "scale": {"type": "point", "padding": 0, "domain": [1, 2, 3, 4]}, "axis": null},
            "text": {"field": "text"}
          }
        },
        {
          "transform": [{"filter": "datum.line > 1"}],
          "mark": {"type": "text", "font": "Open Sans", "fontSize": 18.2, "align": "left", "baseline": "alphabetic", "color": "#231F20", "dx": -41},
          "encoding": {
            "x": {"datum": 0, "type": "quantitative", "scale": {"domain": [0, 1]}, "axis": null},
            "y": {"field": "line", "type": "ordinal", "scale": {"type": "point", "padding": 0, "domain": [1, 2, 3, 4]}, "axis": null},
            "text": {"field": "text"}
          }
        },
        {
          "transform": [{"filter": "datum.line == 1"}],
          "mark": {"type": "text", "font": "Open Sans", "fontSize": 18.2, "fontWeight": "bold", "align": "left", "baseline": "alphabetic", "color": "#231F20", "dx": -41},
          "encoding": {
            "x": {"datum": 0, "type": "quantitative", "scale": {"domain": [0, 1]}, "axis": null},
            "y": {"field": "line", "type": "ordinal", "scale": {"type": "point", "padding": 0, "domain": [1, 2, 3, 4]}, "axis": null},
            "text": {"value": "Fig. 2"}
          }
        }
      ]
    }
  ]
}
